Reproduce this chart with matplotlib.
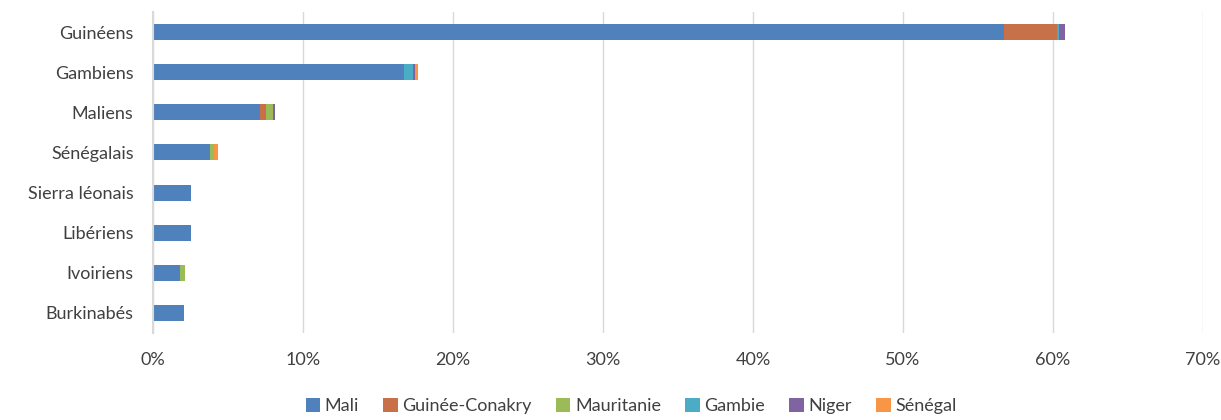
import matplotlib
matplotlib.use("Agg")
import matplotlib.pyplot as plt
from matplotlib.ticker import FuncFormatter
from matplotlib.patches import Patch

categories = ["Guinéens", "Gambiens", "Maliens", "Sénégalais", "Sierra léonais",
              "Libériens", "Ivoiriens", "Burkinabés"]
series_names = ["Mali", "Guinée-Conakry", "Mauritanie", "Gambie", "Niger", "Sénégal"]
mali        = [56.7, 16.7, 7.1, 3.8, 2.55, 2.5, 1.78, 2.07]
guinee      = [3.55, 0.0, 0.45, 0.0, 0.0, 0.0, 0.0, 0.0]
mauritanie  = [0.0, 0.0, 0.45, 0.27, 0.0, 0.0, 0.33, 0.0]
gambie      = [0.13, 0.62, 0.0, 0.0, 0.0, 0.0, 0.0, 0.0]
niger       = [0.4, 0.13, 0.1, 0.0, 0.0, 0.0, 0.0, 0.0]
senegal     = [0.0, 0.23, 0.0, 0.27, 0.0, 0.0, 0.0, 0.0]
colors = ["#4F81BD", "#C8704A", "#9BBB59", "#4BACC6", "#8064A2", "#F79646"]

plt.rcParams['font.family'] = ['Lato', 'DejaVu Sans']

fig = plt.figure(figsize=(12.21, 4.2), dpi=100)
ax = fig.add_axes([153/1221, 1-333/420, 1050/1221, 321/420])

data = [mali, guinee, mauritanie, gambie, niger, senegal]
y = list(range(len(categories)))
left = [0.0]*len(categories)
for vals, c in zip(data, colors):
    ax.barh(y, vals, left=left, height=0.4, color=c, zorder=3)
    left = [l + v for l, v in zip(left, vals)]

ax.set_xlim(0, 70)
ax.set_ylim(len(categories)-0.5, -0.5)
ax.set_xticks(range(0, 71, 10))
ax.xaxis.set_major_formatter(FuncFormatter(lambda v, p: f"{int(v)}%"))
ax.set_yticks(y)
ax.set_yticklabels(categories)
ax.grid(axis='x', color='#d9d9d9', linewidth=1, zorder=0)
for s in ["top", "right", "bottom"]:
    ax.spines[s].set_visible(False)
ax.spines["left"].set_color("#d9d9d9")
ax.spines["left"].set_linewidth(1.5)
ax.spines["left"].set_zorder(4)
ax.tick_params(axis='both', length=0, labelsize=13, colors='#404040')
ax.tick_params(axis='x', pad=14)
ax.tick_params(axis='y', pad=14)

handles = [Patch(facecolor=c, label=n) for n, c in zip(series_names, colors)]
fig.legend(handles=handles, loc='center', bbox_to_anchor=(631/1221, 1-406/420), ncol=6,
           frameon=False, fontsize=13, handlelength=0.8, handleheight=0.8,
           handletextpad=0.25, columnspacing=1.35, labelcolor='#404040')

fig.savefig("out.png", dpi=100)
